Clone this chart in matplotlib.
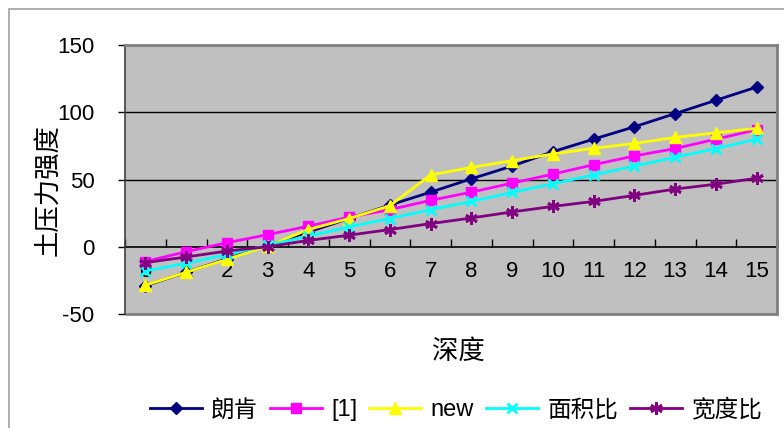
import matplotlib
matplotlib.use('Agg')
import matplotlib.pyplot as plt
from matplotlib.patches import Rectangle
from matplotlib.ticker import FixedLocator, NullFormatter

plt.rcParams['font.family'] = ['Liberation Sans', 'Noto Sans CJK SC', 'DejaVu Sans']
plt.rcParams['axes.unicode_minus'] = False

depth = list(range(16))
depth_labels = [str(d) for d in depth]

rankine = [-29, -19, -9, 1, 11, 21, 31, 40.6, 50.5, 60, 70.7, 80, 89.2, 99, 108.9, 118.7]
ref1 = [-11, -3.7, 3, 9, 15.3, 22, 27.6, 34.5, 40.6, 47.3, 54, 61, 67.5, 73, 80, 87]
new = [-28.6, -19, -9.4, 0.5, 12.8, 21, 30.5, 53.4, 59, 64, 69, 73.2, 76.8, 81.3, 84.7, 88]
area_ratio = [-18, -12.3, -5.7, 1, 7.9, 14.8, 21, 27.6, 33.7, 40.4, 46.8, 53.4, 60, 66.5, 73, 80]
width_ratio = [-11.8, -7.6, -3.2, 0, 4.7, 8.6, 12.8, 17.2, 21.4, 25.9, 30, 33.7, 38.2, 42.9, 46.5, 51]

series_names = ['朗肯', '[1]', 'new', '面积比', '宽度比']

fig = plt.figure(figsize=(7.84, 4.28), dpi=100)
fig.patches.append(Rectangle((9 / 784, -0.1), 1.2, 1 - 9 / 428 + 0.1, transform=fig.transFigure,
                             fill=False, edgecolor='#a0a0a0', linewidth=1.2))

ax = fig.add_axes([125 / 784, 1 - 314 / 428, (777 - 125) / 784, (314 - 45) / 428])
ax.set_facecolor('#c0c0c0')

lw = 2.0
ax.plot(depth, rankine, color='#000080', marker='D', markersize=6.5, lw=lw, label=series_names[0], zorder=3)
ax.plot(depth, ref1, color='#ff00ff', marker='s', markersize=7.5, lw=lw, label=series_names[1], zorder=3)
ax.plot(depth, new, color='#ffff00', marker='^', markersize=8.5, lw=lw, label=series_names[2], zorder=3)
ax.plot(depth, area_ratio, color='#00ffff', marker='x', markersize=7.5, markeredgewidth=2, lw=lw,
        label=series_names[3], zorder=3)
ax.plot(depth, width_ratio, color='#800080', marker=(6, 2, 0), markersize=9, markeredgewidth=2, lw=lw,
        label=series_names[4], zorder=3)

ax.set_xlim(-0.5, 15.5)
ax.set_ylim(-50, 150)
ax.set_yticks([-50, 0, 50, 100, 150])
for yv in [50, 100]:
    ax.axhline(yv, color='black', lw=1, zorder=1)

# x axis sits on y = 0, ticks between categories, labels at category centres
ax.spines['bottom'].set_position(('data', 0))
ax.spines['bottom'].set_color('black')
ax.spines['bottom'].set_linewidth(1.2)
ax.spines['bottom'].set_zorder(2)
ax.xaxis.set_major_locator(FixedLocator([x - 0.5 for x in range(17)]))
ax.xaxis.set_major_formatter(NullFormatter())
ax.xaxis.set_minor_locator(FixedLocator(depth))
ax.set_xticklabels(depth_labels, minor=True)
ax.tick_params(axis='x', which='major', direction='in', length=6, width=1, color='black')
ax.tick_params(axis='x', which='minor', length=0, labelsize=16, pad=10)
ax.tick_params(axis='y', direction='out', length=5, width=1, labelsize=16, pad=17, color='black')

for s in ['top', 'right']:
    ax.spines[s].set_color('#808080')
    ax.spines[s].set_linewidth(2)
ax.spines['left'].set_color('#404040')
ax.spines['left'].set_linewidth(1.2)
ax.add_patch(Rectangle((0, 0), 1, 0, transform=ax.transAxes, fill=False, edgecolor='#808080',
                       linewidth=2, clip_on=False))

fig.text(48 / 784, 1 - 190 / 428, '土压力强度', fontsize=19, rotation=90, ha='center', va='center')
fig.text(458 / 784, 1 - 352 / 428, '深度', fontsize=19, ha='center', va='center')

fig.legend(loc='center', bbox_to_anchor=(456 / 784, 1 - 410 / 428), ncol=5, frameon=False,
           fontsize=17, handlelength=2.2, handletextpad=0.4, columnspacing=0.5)

fig.savefig('out.png', dpi=100)
